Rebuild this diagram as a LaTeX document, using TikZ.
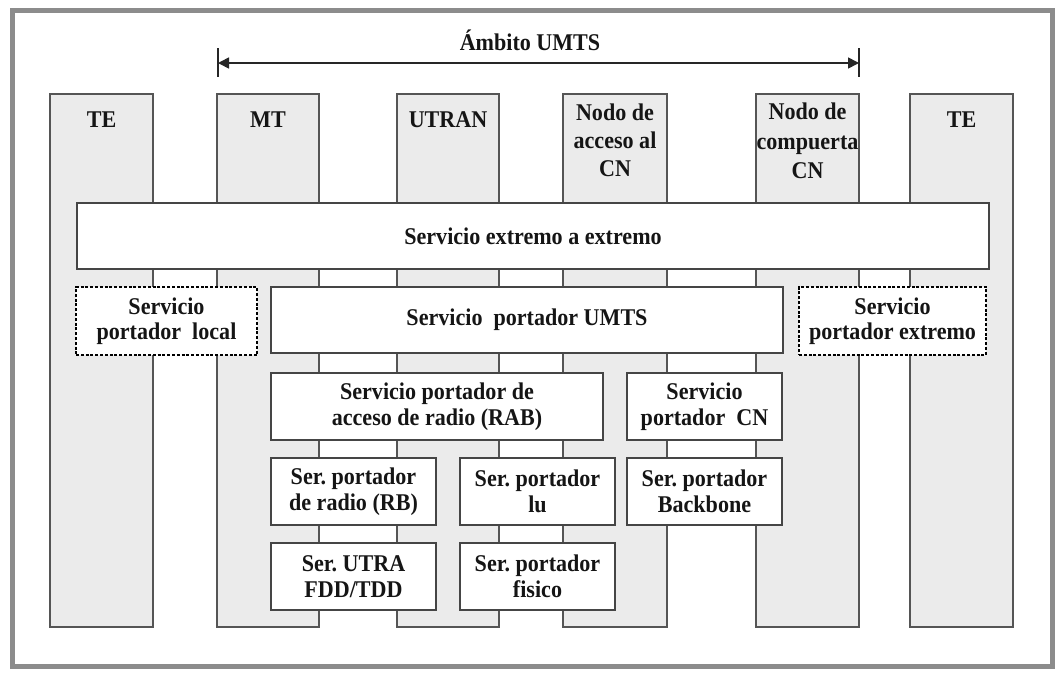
\documentclass[tikz,border=0pt]{standalone}
\usepackage{fontspec}
\setmainfont{Liberation Serif}[FakeStretch=0.92]
\usetikzlibrary{arrows.meta}
\definecolor{colfill}{HTML}{EBEBEB}
\definecolor{colline}{HTML}{555555}
\definecolor{boxline}{HTML}{454545}
\definecolor{framec}{HTML}{8C8C8C}
\definecolor{txt}{HTML}{151515}
\begin{document}
\begin{tikzpicture}[x=1pt,y=-1pt,
  every node/.style={inner sep=0pt, outer sep=0pt, text=txt, font=\fontsize{24}{25.5}\selectfont\bfseries},
  colbox/.style={draw=colline, fill=colfill, line width=1.6pt, anchor=north west, minimum height=533pt},
  sbox/.style={draw=boxline, fill=white, line width=2pt, anchor=north west, align=center},
  dbox/.style={draw=black, fill=white, line width=2.4pt, dash pattern=on 3pt off 1.8pt, anchor=north west, align=center},
  ctitle/.style={anchor=base, align=center},
  mtitle/.style={align=center, font=\fontsize{24}{28}\selectfont\bfseries},
  rng/.style={draw=black!85, line width=1.6pt},
  rngarrow/.style={draw=black!85, line width=1.6pt, {Triangle[length=11pt,width=11pt]}-{Triangle[length=11pt,width=11pt]}}
]
\useasboundingbox (0,0) rectangle (1056,673);
\fill[white] (0,0) rectangle (1056,673);
\draw[framec, line width=5pt] (12,10) rectangle (1052,666);

% range arrow
\coordinate (aL) at (218,63);
\coordinate (aR) at (859,63);
\coordinate (aLt) at (218,48);
\coordinate (aLb) at (218,77);
\coordinate (aRt) at (859,48);
\coordinate (aRb) at (859,77);
\draw[rng] (aLt) -- (aLb);
\draw[rng] (aRt) -- (aRb);
\draw[rngarrow] (aL) -- (aR);
\node[anchor=base] (ambito) at (530,50) {Ámbito UMTS};

% columns
\node[colbox, minimum width=103pt] (te1) at (50,94) {};
\node[colbox, minimum width=102pt] (mt) at (217,94) {};
\node[colbox, minimum width=102pt] (utran) at (397,94) {};
\node[colbox, minimum width=104pt] (acc) at (563,94) {};
\node[colbox, minimum width=103pt] (comp) at (756,94) {};
\node[colbox, minimum width=103pt] (te2) at (910,94) {};

\node[ctitle] (tte1) at (101.5,127) {TE};
\node[ctitle] (tmt) at (268,127) {MT};
\node[ctitle] (tutran) at (448,127) {UTRAN};
\node[mtitle] (tacc) at (615,140) {Nodo de\\acceso al\\CN};
\node[mtitle, font=\fontsize{24}{29.5}\selectfont\bfseries] (tcomp) at (807.5,141) {Nodo de\\compuerta\\CN};
\node[ctitle] (tte2) at (961.5,127) {TE};

% service boxes
\node[sbox, minimum width=912pt, minimum height=66pt] (ee) at (77,203) {Servicio extremo a extremo};
\node[dbox, minimum width=181pt, minimum height=68pt] (local) at (76,287) {Servicio\\portador\ \ local};
\node[sbox, minimum width=512pt, minimum height=66pt] (umts) at (271,287) {Servicio\ \ portador UMTS};
\node[dbox, minimum width=187pt, minimum height=68pt] (extr) at (799,287) {Servicio\\portador\ extremo};
\node[sbox, minimum width=332pt, minimum height=67pt] (rab) at (271,373) {Servicio portador de\\acceso de radio (RAB)};
\node[sbox, minimum width=155pt, minimum height=67pt] (cn) at (627,373) {Servicio\\portador\ \ CN};
\node[sbox, minimum width=165pt, minimum height=67pt] (rb) at (271,458) {Ser.\ portador\\de radio (RB)};
\node[sbox, minimum width=155pt, minimum height=67pt] (lu) at (460,458) {Ser.\ portador\\lu};
\node[sbox, minimum width=155pt, minimum height=67pt] (bb) at (627,458) {Ser.\ portador\\Backbone};
\node[sbox, minimum width=165pt, minimum height=67pt] (utra) at (271,543) {Ser.\ UTRA\\FDD/TDD};
\node[sbox, minimum width=155pt, minimum height=67pt] (fis) at (460,543) {Ser.\ portador\\fisico};
\end{tikzpicture}
\end{document}
